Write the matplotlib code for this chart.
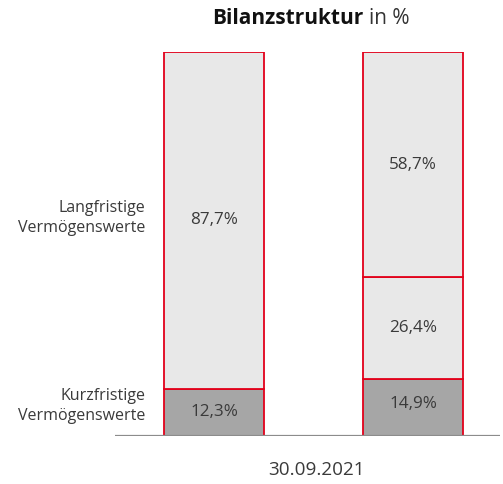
import matplotlib
matplotlib.use("Agg")
import matplotlib.pyplot as plt

categories = ["30.09.2021 A", "30.09.2021 B"]
kurz = [12.3, 14.9]
mid = [0.0, 26.4]
lang_top = [87.7, 58.7]
seg_labels = [["12,3%", "87,7%"], ["14,9%", "26,4%", "58,7%"]]
row_labels = ["Langfristige\nVermögenswerte", "Kurzfristige\nVermögenswerte"]
date_label = "30.09.2021"

plt.rcParams['font.family'] = ['Open Sans', 'DejaVu Sans']
W, H = 503, 484
fig = plt.figure(figsize=(W/100, H/100), dpi=100)
ax = fig.add_axes([115/W, (H-436)/H, (500-115)/W, 384/H])

red = "#e2001a"
dark = "#a6a6a6"
light = "#e8e8e8"
txt = "#3a3a3a"
bw = 100/199
xs = [0, 1]

ax.bar(xs, kurz, width=bw, color=dark, edgecolor=red, linewidth=1.3, zorder=2)
ax.bar(xs, mid, bottom=kurz, width=bw, color=light, edgecolor=red, linewidth=1.3, zorder=2)
bottoms = [k + m for k, m in zip(kurz, mid)]
ax.bar(xs, lang_top, bottom=bottoms, width=bw, color=light, edgecolor=red, linewidth=1.3, zorder=2)
ax.patches[2].set_visible(False)

fs = 12.3
ax.text(0, kurz[0]/2, seg_labels[0][0], ha='center', va='center', fontsize=fs, color=txt)
ax.text(0, kurz[0] + lang_top[0]/2, seg_labels[0][1], ha='center', va='center', fontsize=fs, color=txt)
ax.text(1, kurz[1]/2 + 0.8, seg_labels[1][0], ha='center', va='center', fontsize=fs, color=txt)
ax.text(1, kurz[1] + mid[1]/2, seg_labels[1][1], ha='center', va='center', fontsize=fs, color=txt)
ax.text(1, bottoms[1] + lang_top[1]/2, seg_labels[1][2], ha='center', va='center', fontsize=fs, color=txt)

ax.set_xlim(-99/199, 1 + 87/199)
ax.set_ylim(0, 100)
for s in ax.spines.values():
    s.set_visible(False)
ax.set_xticks([])
ax.set_yticks([])
ax.axhline(0, color="#8c8c8c", linewidth=1.6, zorder=3)

fig.text(145/W, 1 - 218/H, row_labels[0], ha='right', va='center', fontsize=11.5, color=txt, linespacing=1.3)
fig.text(145/W, 1 - 406/H, row_labels[1], ha='right', va='center', fontsize=11.5, color=txt, linespacing=1.3)

fig.text(316/W, 1 - 470/H, date_label, ha='center', va='center', fontsize=13.6, color=txt)

fig.text(363/W, 1 - 18/H, "Bilanzstruktur", ha='right', va='center', fontsize=15, fontweight='bold', color='#111111')
fig.text(369/W, 1 - 18/H, "in %", ha='left', va='center', fontsize=15, color='#333333')

fig.savefig("out.png", dpi=100)
